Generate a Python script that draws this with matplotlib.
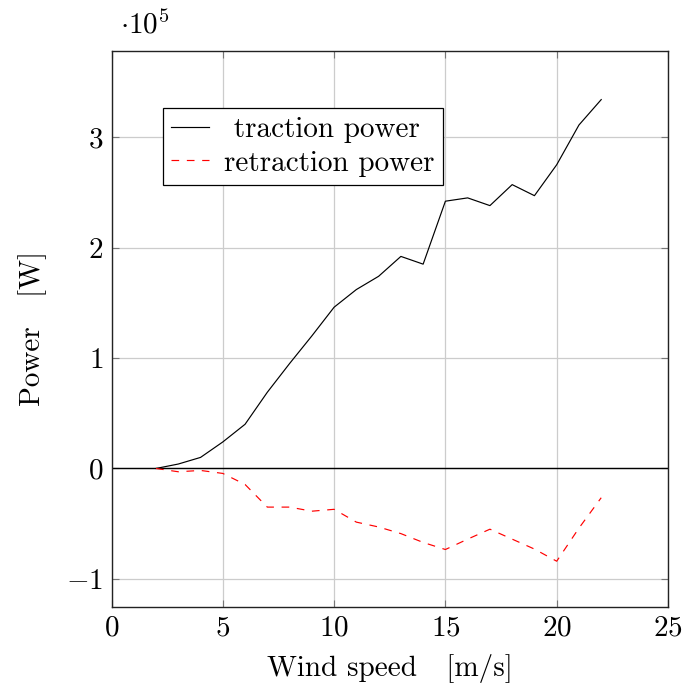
import matplotlib
matplotlib.use("Agg")
import matplotlib.pyplot as plt
from matplotlib.ticker import FuncFormatter, MultipleLocator

plt.rcParams['font.family'] = 'serif'
plt.rcParams['font.serif'] = ['cmr10']
plt.rcParams['mathtext.fontset'] = 'cm'
plt.rcParams['axes.formatter.use_mathtext'] = True

wind_speed = [2, 3, 4, 5, 6, 7, 8, 9, 10, 11, 12, 13, 14, 15, 16, 17, 18, 19, 20, 21, 22]
traction_power = [0, 4000, 10000, 24000, 40000, 69000, 95000, 120000, 146000, 162000,
                  174000, 192000, 185000, 242000, 245000, 238000, 257000, 247000,
                  275000, 311000, 334000]
retraction_power = [0, -3000, -1800, -4500, -14500, -35000, -35000, -38700, -37000,
                    -48600, -53000, -59000, -67000, -73400, -64000, -55000, -64000,
                    -73000, -84000, -54000, -26500]

fs = 21
fig = plt.figure(figsize=(6.83, 6.86), dpi=100)
ax = fig.add_axes([111.5/683, 1-606.5/686, (668-111.5)/683, (606.5-51)/686])

ax.plot(wind_speed, traction_power, color='black', lw=0.85, label=' traction power')
ax.plot(wind_speed, retraction_power, color='red', lw=0.85, dashes=(6.5, 6.5),
        label='retraction power')
ax.axhline(0, color='black', lw=1.0, zorder=1.5)

ax.set_xlim(0, 25)
ax.set_ylim(-125000, 378000)
ax.xaxis.set_major_locator(MultipleLocator(5))
ax.yaxis.set_major_locator(MultipleLocator(100000))
ax.xaxis.set_major_formatter(FuncFormatter(lambda v, p: r'$%d$' % round(v)))
ax.yaxis.set_major_formatter(FuncFormatter(lambda v, p: r'$%d$' % round(v / 1e5)))
ax.grid(True, color='#cccccc', lw=0.9)
ax.set_axisbelow(True)
ax.tick_params(direction='in', length=5, width=0.8, color='#777777',
               top=True, right=True, labelsize=fs, pad=6)
for s in ax.spines.values():
    s.set_linewidth(1.0)
    s.set_color('#222222')

ax.set_xlabel('Wind speed   [m/s]', fontsize=fs, labelpad=9)
ax.set_ylabel('Power   [W]', fontsize=fs, labelpad=14)

fig.text(120/683, 1-25/686, r'$\cdot10^{5}$', fontsize=fs, ha='left', va='center')

leg = ax.legend(loc='upper left', bbox_to_anchor=((162.7-111.5)/556.5, 1-(107.7-51)/555.5),
                fontsize=fs, frameon=True, fancybox=False, edgecolor='black',
                framealpha=1, borderpad=0.3, handlelength=1.3, labelspacing=0.25,
                handletextpad=0.5, borderaxespad=0)
leg.get_frame().set_linewidth(0.9)

fig.savefig('out.png', dpi=100)
